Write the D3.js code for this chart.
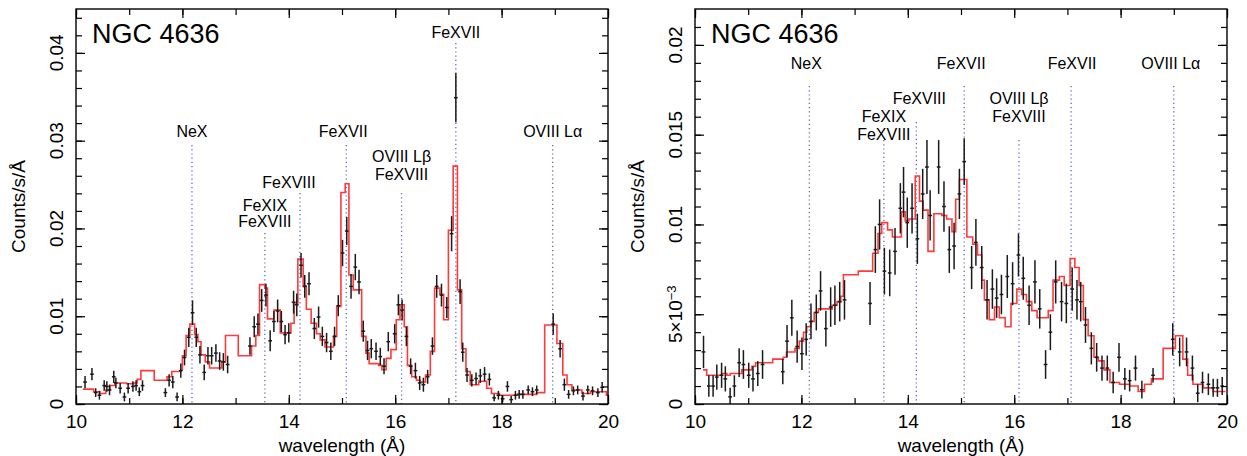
<!DOCTYPE html>
<html>
<head>
<meta charset="utf-8">
<script src="https://cdn.jsdelivr.net/npm/d3@7"></script>
<style>
  body { margin: 0; background: #fff; }
  svg { font-family: "Liberation Sans", Arial, sans-serif; }
</style>
</head>
<body>
<svg width="1247" height="456"></svg>
<script>
// ---- data: left panel (observed spectrum, counts/s/A) ----
const leftWl = [10.17, 10.30, 10.37, 10.44, 10.53, 10.58, 10.63, 10.71, 10.75, 10.83, 10.91, 10.98, 11.07, 11.13, 11.19, 11.25,
  11.68, 11.75, 11.82, 11.90, 11.97, 12.04, 12.12, 12.19, 12.26, 12.33, 12.41, 12.48, 12.55, 12.63, 12.70, 12.77, 12.85,
  13.27, 13.35, 13.42, 13.49, 13.57, 13.65, 13.72, 13.79, 13.86, 13.93, 14.00, 14.09, 14.15, 14.23, 14.30, 14.38, 14.48,
  14.56, 14.63, 14.71, 14.79, 14.86, 14.93, 15.01, 15.09, 15.17, 15.25, 15.32, 15.40, 15.48, 15.55, 15.64, 15.72, 15.79,
  15.87, 15.99, 16.06, 16.13, 16.21, 16.29, 16.38, 16.46, 16.53, 16.61, 16.70, 16.78, 16.87, 16.97, 17.06, 17.14, 17.22,
  17.27, 17.35, 17.44, 17.52, 17.60, 17.68, 17.77, 17.86, 17.94, 18.02, 18.11, 18.18, 18.26, 18.33, 18.40, 18.50, 18.58,
  18.66, 18.97, 19.10, 19.18, 19.26, 19.35, 19.43, 19.53, 19.62, 19.71, 19.81, 19.89];
const leftVal = [0.0025, 0.0034, 0.0013, 0.0010, 0.0021, 0.0020, 0.0016, 0.0031, 0.0024, 0.0018, 0.0008, 0.0018, 0.0020, 0.0021, 0.0014, 0.0021,
  0.0013, 0.0027, 0.0025, 0.0008, 0.0038, 0.0053, 0.0076, 0.0104, 0.0076, 0.0056, 0.0036, 0.0055, 0.0055, 0.0058, 0.0049, 0.0048, 0.0045,
  0.0066, 0.0088, 0.0091, 0.0118, 0.0124, 0.0072, 0.0094, 0.0106, 0.0094, 0.0079, 0.0081, 0.0116, 0.0113, 0.0158, 0.0134, 0.0137, 0.0086,
  0.0099, 0.0077, 0.0070, 0.0060, 0.0077, 0.0112, 0.0172, 0.0197, 0.0134, 0.0156, 0.0139, 0.0083, 0.0061, 0.0063, 0.0060, 0.0054, 0.0043,
  0.0071, 0.0080, 0.0113, 0.0107, 0.0077, 0.0043, 0.0038, 0.0024, 0.0022, 0.0031, 0.0066, 0.0134, 0.0124, 0.0110, 0.0194, 0.0349, 0.0128,
  0.0059, 0.0033, 0.0027, 0.0029, 0.0032, 0.0034, 0.0028, 0.0007, 0.0010, 0.0006, 0.0020, 0.0005, 0.0010, 0.0011, 0.0011, 0.0016, 0.0014,
  0.0016, 0.0091, 0.0063, 0.0022, 0.0011, 0.0015, 0.0016, 0.0009, 0.0016, 0.0015, 0.0013, 0.0019];
const leftErr = [0.0007, 0.0007, 0.0005, 0.0005, 0.0006, 0.0006, 0.0006, 0.0007, 0.0006, 0.0006, 0.0005, 0.0006, 0.0006, 0.0006, 0.0005, 0.0006,
  0.0005, 0.0007, 0.0007, 0.0005, 0.0008, 0.0009, 0.0011, 0.0014, 0.0011, 0.0010, 0.0009, 0.0010, 0.0010, 0.0010, 0.0010, 0.0010, 0.0010,
  0.0010, 0.0012, 0.0012, 0.0013, 0.0013, 0.0012, 0.0012, 0.0013, 0.0012, 0.0011, 0.0011, 0.0013, 0.0013, 0.0014, 0.0013, 0.0013, 0.0012,
  0.0012, 0.0011, 0.0011, 0.0010, 0.0011, 0.0012, 0.0015, 0.0016, 0.0014, 0.0015, 0.0014, 0.0012, 0.0011, 0.0011, 0.0010, 0.0010, 0.0009,
  0.0011, 0.0011, 0.0012, 0.0012, 0.0011, 0.0009, 0.0009, 0.0008, 0.0008, 0.0008, 0.0010, 0.0013, 0.0013, 0.0012, 0.0020, 0.0028, 0.0014,
  0.0011, 0.0008, 0.0007, 0.0007, 0.0008, 0.0008, 0.0007, 0.0004, 0.0005, 0.0004, 0.0006, 0.0004, 0.0005, 0.0005, 0.0005, 0.0005, 0.0005,
  0.0005, 0.0012, 0.0010, 0.0007, 0.0005, 0.0005, 0.0005, 0.0005, 0.0005, 0.0005, 0.0005, 0.0006];

// model (red step line): bin start wavelength and value
const leftModelWl = [10.13, 10.33, 10.45, 10.56, 10.64, 10.73, 10.95, 11.08, 11.15, 11.22, 11.47, 11.71, 11.80, 11.97, 12.00, 12.07,
  12.14, 12.23, 12.29, 12.35, 12.43, 12.51, 12.74, 12.81, 13.05, 13.30, 13.38, 13.45, 13.55, 13.60, 13.72, 13.84, 14.04, 14.10,
  14.17, 14.27, 14.33, 14.42, 14.52, 14.59, 14.68, 14.84, 14.90, 14.98, 15.06, 15.13, 15.21, 15.37, 15.45, 15.51, 15.69, 15.75,
  15.83, 15.92, 16.02, 16.09, 16.17, 16.23, 16.31, 16.40, 16.47, 16.57, 16.66, 16.74, 16.84, 16.91, 17.00, 17.09, 17.17, 17.25,
  17.33, 17.41, 17.57, 17.72, 17.81, 17.96, 18.30, 18.66, 18.81, 19.04, 19.15, 19.23, 19.32, 19.51, 19.67, 19.97, 20.0];
const leftModelVal = [0.0017, 0.0014, 0.0012, 0.0016, 0.0021, 0.0024, 0.0023, 0.0024, 0.0028, 0.0038, 0.0027, 0.0031, 0.0037, 0.0039, 0.0055, 0.0078,
  0.0091, 0.0079, 0.0071, 0.0056, 0.0048, 0.0041, 0.0048, 0.0078, 0.0055, 0.0066, 0.0078, 0.0136, 0.0132, 0.0097, 0.0107, 0.0081, 0.0092, 0.0115,
  0.0165, 0.0134, 0.0108, 0.0092, 0.0080, 0.0073, 0.0065, 0.0077, 0.0111, 0.0241, 0.0251, 0.0147, 0.0130, 0.0077, 0.0058, 0.0046, 0.0044, 0.0039,
  0.0052, 0.0062, 0.0096, 0.0113, 0.0088, 0.0044, 0.0031, 0.0027, 0.0025, 0.0033, 0.0060, 0.0132, 0.0125, 0.0096, 0.0198, 0.0271, 0.0130, 0.0063,
  0.0037, 0.0022, 0.0026, 0.0018, 0.0012, 0.0010, 0.0011, 0.0013, 0.0090, 0.0069, 0.0033, 0.0022, 0.0016, 0.0012, 0.0014, 0.0010, 0.0010];

// ---- data: right panel ----
const rightWl = [10.16, 10.26, 10.34, 10.41, 10.50, 10.57, 10.66, 10.74, 10.83, 10.91, 11.01, 11.09, 11.18, 11.27,
  11.65, 11.73, 11.82, 11.92, 12.01, 12.09, 12.18, 12.28, 12.36, 12.46, 12.55, 12.63, 12.72, 12.81,
  13.29, 13.39, 13.47, 13.56, 13.66, 13.76, 13.86, 13.92, 13.99, 14.08, 14.18, 14.28, 14.36, 14.42, 14.58, 14.68,
  14.78, 14.87, 14.97, 15.06, 15.20, 15.28, 15.39, 15.49, 15.59, 15.67, 15.76, 15.87, 15.97, 16.08, 16.17, 16.28,
  16.39, 16.48, 16.59, 16.68, 16.78, 16.89, 16.98, 17.09, 17.18, 17.25, 17.34, 17.45, 17.55, 17.65, 17.75, 17.86,
  17.97, 18.08, 18.17, 18.28, 18.40, 18.61, 18.98, 19.11, 19.24, 19.35, 19.45, 19.54, 19.65, 19.74, 19.82, 19.91];
const rightVal = [0.0029, 0.0010, 0.0010, 0.0015, 0.0016, 0.0014, 0.0004, 0.0010, 0.0023, 0.0022, 0.0016, 0.0014, 0.0017, 0.0022,
  0.0018, 0.0035, 0.0048, 0.0032, 0.0028, 0.0036, 0.0046, 0.0051, 0.0063, 0.0042, 0.0054, 0.0055, 0.0057, 0.0058,
  0.0056, 0.0086, 0.0100, 0.0074, 0.0073, 0.0085, 0.0109, 0.0118, 0.0101, 0.0109, 0.0092, 0.0117, 0.0132, 0.0105, 0.0132, 0.0110,
  0.0086, 0.0088, 0.0117, 0.0135, 0.0076, 0.0090, 0.0076, 0.0058, 0.0064, 0.0059, 0.0061, 0.0071, 0.0067, 0.0083, 0.0070, 0.0055,
  0.0068, 0.0053, 0.0022, 0.0040, 0.0068, 0.0057, 0.0056, 0.0064, 0.0058, 0.0057, 0.0044, 0.0031, 0.0026, 0.0020, 0.0020, 0.0012,
  0.0026, 0.0014, 0.0013, 0.0020, 0.0008, 0.0016, 0.0036, 0.0029, 0.0029, 0.0020, 0.0006, 0.0012, 0.0011, 0.0009, 0.0009, 0.0010];
const rightErr = [0.0009, 0.0006, 0.0006, 0.0007, 0.0007, 0.0007, 0.0005, 0.0006, 0.0008, 0.0008, 0.0007, 0.0007, 0.0007, 0.0008,
  0.0007, 0.0009, 0.0010, 0.0009, 0.0009, 0.0009, 0.0010, 0.0010, 0.0011, 0.0010, 0.0011, 0.0011, 0.0011, 0.0011,
  0.0012, 0.0013, 0.0014, 0.0013, 0.0013, 0.0013, 0.0014, 0.0014, 0.0014, 0.0014, 0.0014, 0.0014, 0.0015, 0.0014, 0.0015, 0.0014,
  0.0013, 0.0013, 0.0014, 0.0013, 0.0012, 0.0013, 0.0012, 0.0011, 0.0011, 0.0011, 0.0011, 0.0012, 0.0012, 0.0012, 0.0012, 0.0011,
  0.0012, 0.0011, 0.0008, 0.0010, 0.0012, 0.0011, 0.0011, 0.0012, 0.0011, 0.0011, 0.0010, 0.0009, 0.0008, 0.0007, 0.0007, 0.0006,
  0.0008, 0.0006, 0.0006, 0.0007, 0.0005, 0.0004, 0.0009, 0.0008, 0.0008, 0.0007, 0.0005, 0.0006, 0.0006, 0.0005, 0.0005, 0.0005];

const rightModelWl = [10.15, 10.22, 10.50, 10.60, 10.66, 10.88, 11.07, 11.14, 11.46, 11.66, 11.72, 11.88, 11.96, 12.04, 12.10, 12.18,
  12.24, 12.32, 12.58, 12.67, 12.74, 12.79, 13.07, 13.34, 13.44, 13.51, 13.62, 13.71, 13.88, 13.95, 14.02, 14.14, 14.22, 14.29,
  14.38, 14.49, 14.64, 14.73, 14.83, 14.90, 14.97, 15.11, 15.22, 15.31, 15.39, 15.44, 15.53, 15.63, 15.72, 15.83, 15.94, 16.05,
  16.14, 16.23, 16.33, 16.43, 16.64, 16.73, 16.85, 16.94, 17.05, 17.14, 17.22, 17.30, 17.39, 17.50, 17.58, 17.69, 17.80, 17.98,
  18.17, 18.33, 18.45, 18.58, 18.80, 19.03, 19.17, 19.26, 19.36, 19.55, 19.74, 19.97];
const rightModelVal = [0.0019, 0.0016, 0.0017, 0.0016, 0.0017, 0.0019, 0.0021, 0.0023, 0.0025, 0.0026, 0.0029, 0.0031, 0.0035, 0.0040, 0.0043, 0.0046,
  0.0051, 0.0053, 0.0055, 0.0057, 0.0060, 0.0072, 0.0074, 0.0084, 0.0095, 0.0101, 0.0097, 0.0093, 0.0107, 0.0102, 0.0103, 0.0127, 0.0113, 0.0108,
  0.0085, 0.0106, 0.0105, 0.0103, 0.0096, 0.0114, 0.0125, 0.0093, 0.0089, 0.0083, 0.0069, 0.0058, 0.0047, 0.0054, 0.0048, 0.0043, 0.0056, 0.0064,
  0.0061, 0.0057, 0.0052, 0.0048, 0.0052, 0.0069, 0.0071, 0.0066, 0.0081, 0.0076, 0.0066, 0.0047, 0.0038, 0.0026, 0.0024, 0.0019, 0.0012, 0.0011,
  0.0010, 0.0007, 0.0011, 0.0014, 0.0031, 0.0038, 0.0025, 0.0016, 0.0011, 0.0009, 0.0007, 0.0007];

// emission line identifications
const lineNames = [['NeX'], ['FeXIX', 'FeXVIII'], ['FeXVIII'], ['FeXVII'], ['OVIII L\u03b2', 'FeXVIII'], ['FeXVII'], ['OVIII L\u03b1']];
const leftLineWl = [12.18, 13.55, 14.21, 15.08, 16.12, 17.14, 18.96];
const rightLineWl = [12.15, 13.55, 14.16, 15.06, 16.09, 17.07, 19.0];

const xMajor = [10, 12, 14, 16, 18, 20];
const leftYTicks = [0, 0.01, 0.02, 0.03, 0.04];
const leftYLabels = ['0', '0.01', '0.02', '0.03', '0.04'];
const rightYTicks = [0, 0.005, 0.01, 0.015, 0.02];
const rightYLabels = ['0', '5\u00d710|\u22123', '0.01', '0.015', '0.02'];

// ---- layout ----
const panels = [
  {
    x0: 76, x1: 608, y0: 9, y1: 404, ymax: 0.045, minor: 0.002,
    wl: leftWl, val: leftVal, err: leftErr, mwl: leftModelWl, mval: leftModelVal,
    lineWl: leftLineWl, yTicks: leftYTicks, yLabels: leftYLabels,
    // label baseline (px), line spacing, top of dotted line, x shift
    lab: [[137, 0, 145, 0], [211, 15.5, 233, 0], [188, 0, 193, -11], [137, 0, 145, -3], [162, 18, 193, 0], [38, 0, 43, 0], [137, 0, 145, 0]]
  },
  {
    x0: 695, x1: 1227, y0: 9, y1: 404, ymax: 0.022, minor: 0.001,
    wl: rightWl, val: rightVal, err: rightErr, mwl: rightModelWl, mval: rightModelVal,
    lineWl: rightLineWl, yTicks: rightYTicks, yLabels: rightYLabels,
    lab: [[69, 0, 86, -3], [122, 18, 140, 0], [104, 0, 122, 3], [69, 0, 86, -3], [104, 18, 140, 0], [69, 0, 86, 1], [69, 0, 86, -3]]
  }
];

const svg = d3.select('svg');

panels.forEach(function (p) {
  const x = d3.scaleLinear().domain([10, 20]).range([p.x0, p.x1]);
  const y = d3.scaleLinear().domain([0, p.ymax]).range([p.y1, p.y0]);
  const g = svg.append('g');

  // dotted line markers
  p.lineWl.forEach(function (w, i) {
    const l = p.lab[i];
    g.append('line')
      .attr('x1', x(w)).attr('x2', x(w))
      .attr('y1', l[2]).attr('y2', p.y1)
      .attr('stroke', '#5a66c8')
      .attr('stroke-width', 1.3)
      .attr('stroke-dasharray', '1.2,3');
    lineNames[i].forEach(function (t, k) {
      g.append('text')
        .attr('x', x(w) + l[3])
        .attr('y', l[0] + k * l[1])
        .attr('text-anchor', 'middle')
        .style('font-size', '16px')
        .text(t);
    });
  });

  // model step line
  const model = p.mwl.map(function (d, i) { return [d, p.mval[i]]; });
  g.append('path')
    .datum(model)
    .attr('fill', 'none')
    .attr('stroke', '#ff3a3a')
    .attr('stroke-width', 1.6)
    .attr('d', d3.line()
      .curve(d3.curveStepAfter)
      .x(function (d) { return x(d[0]); })
      .y(function (d) { return y(d[1]); }));

  // data crosses with error bars
  const pts = g.selectAll('.pt')
    .data(p.wl.map(function (d, i) { return { w: d, v: p.val[i], e: p.err[i] }; }))
    .enter().append('g')
    .attr('class', 'pt')
    .attr('stroke', '#1a1a1a')
    .attr('stroke-width', 1.5);
  pts.append('line')
    .attr('x1', function (d) { return x(d.w); })
    .attr('x2', function (d) { return x(d.w); })
    .attr('y1', function (d) { return y(Math.max(0, d.v - d.e)); })
    .attr('y2', function (d) { return y(d.v + d.e); });
  pts.append('line')
    .attr('x1', function (d) { return x(d.w - 0.035); })
    .attr('x2', function (d) { return x(d.w + 0.035); })
    .attr('y1', function (d) { return y(d.v); })
    .attr('y2', function (d) { return y(d.v); });

  // axes (ticks point inward)
  const xMinor = d3.range(10, 20.01, 1);
  const yMinor = d3.range(0, p.ymax, p.minor);
  function styleAxis(a) {
    a.select('.domain').remove();
    a.selectAll('line').attr('stroke', '#000').attr('stroke-width', 1.2);
  }
  g.append('g').attr('transform', 'translate(0,' + p.y1 + ')')
    .call(d3.axisBottom(x).tickValues(xMinor).tickSize(-6).tickFormat(''))
    .call(styleAxis);
  g.append('g').attr('transform', 'translate(0,' + p.y1 + ')')
    .call(d3.axisBottom(x).tickValues(xMajor).tickSize(-9).tickPadding(11).tickFormat(d3.format('d')))
    .call(styleAxis)
    .selectAll('text').style('font-size', '19px').attr('fill', '#000');
  g.append('g').attr('transform', 'translate(0,' + p.y0 + ')')
    .call(d3.axisTop(x).tickValues(xMinor).tickSize(-6).tickFormat(''))
    .call(styleAxis);
  g.append('g').attr('transform', 'translate(0,' + p.y0 + ')')
    .call(d3.axisTop(x).tickValues(xMajor).tickSize(-9).tickFormat(''))
    .call(styleAxis);
  g.append('g').attr('transform', 'translate(' + p.x0 + ',0)')
    .call(d3.axisLeft(y).tickValues(yMinor).tickSize(-6).tickFormat(''))
    .call(styleAxis);
  g.append('g').attr('transform', 'translate(' + p.x0 + ',0)')
    .call(d3.axisLeft(y).tickValues(p.yTicks).tickSize(-9).tickFormat(''))
    .call(styleAxis);
  g.append('g').attr('transform', 'translate(' + p.x1 + ',0)')
    .call(d3.axisRight(y).tickValues(yMinor).tickSize(-6).tickFormat(''))
    .call(styleAxis);
  g.append('g').attr('transform', 'translate(' + p.x1 + ',0)')
    .call(d3.axisRight(y).tickValues(p.yTicks).tickSize(-9).tickFormat(''))
    .call(styleAxis);

  // frame
  g.append('rect')
    .attr('x', p.x0).attr('y', p.y0)
    .attr('width', p.x1 - p.x0).attr('height', p.y1 - p.y0)
    .attr('fill', 'none').attr('stroke', '#000').attr('stroke-width', 1.4);

  // rotated y tick labels
  p.yTicks.forEach(function (v, i) {
    const t = g.append('text')
      .attr('transform', 'translate(' + (p.x0 - 13) + ',' + y(v) + ') rotate(-90)')
      .attr('text-anchor', 'middle')
      .style('font-size', '19px');
    const parts = p.yLabels[i].split('|');
    t.append('tspan').text(parts[0]);
    if (parts[1]) {
      t.append('tspan').attr('dy', '-0.45em').style('font-size', '13px').text(parts[1]);
    }
  });

  // axis titles
  g.append('text')
    .attr('transform', 'translate(' + (p.x0 - 51) + ',' + ((p.y0 + p.y1) / 2) + ') rotate(-90)')
    .attr('text-anchor', 'middle')
    .style('font-size', '19px')
    .text('Counts/s/\u00c5');
  g.append('text')
    .attr('x', (p.x0 + p.x1) / 2)
    .attr('y', 452)
    .attr('text-anchor', 'middle')
    .style('font-size', '19px')
    .text('wavelength (\u00c5)');
  g.append('text')
    .attr('x', p.x0 + 16)
    .attr('y', 43)
    .style('font-size', '27px')
    .text('NGC 4636');
});
</script>
</body>
</html>
